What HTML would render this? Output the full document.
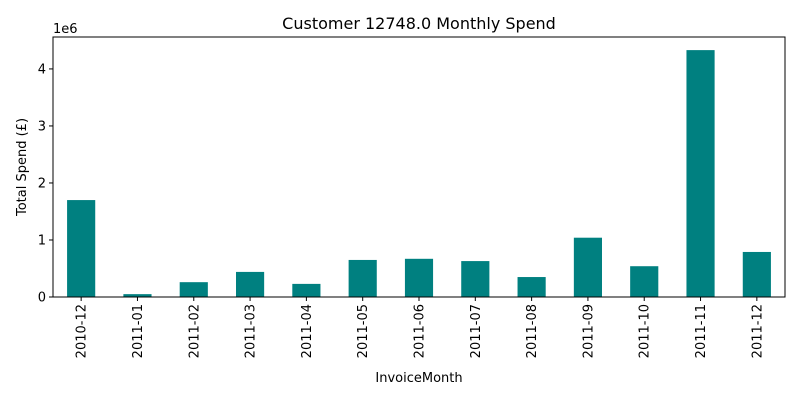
<!DOCTYPE html>
<html><head><meta charset="utf-8"><style>
body{margin:0;background:#fff;font-family:"Liberation Sans","DejaVu Sans",sans-serif}
svg text{font-family:"DejaVu Sans","Liberation Sans",sans-serif}
</style></head><body>
<svg id="chart" width="800" height="400" xmlns="http://www.w3.org/2000/svg">
<rect width="800" height="400" fill="#fff"/>
<text x="419" y="29" font-size="16" text-anchor="middle">Customer 12748.0 Monthly Spend</text>
<text transform="translate(26,167) rotate(-90)" font-size="13" text-anchor="middle">Total Spend (£)</text>
<text x="419" y="382" font-size="13" text-anchor="middle">InvoiceMonth</text>
<text x="53" y="33" font-size="13">1e6</text>
<g id="bars"></g><g id="ticks"></g>
<rect x="53" y="37" width="732" height="260" fill="none" stroke="#000" stroke-width="1"/>
</svg>
<script>
const categories=["2010-12","2011-01","2011-02","2011-03","2011-04","2011-05","2011-06","2011-07","2011-08","2011-09","2011-10","2011-11","2011-12"];
const spend=[1.70,0.05,0.26,0.44,0.23,0.65,0.67,0.63,0.35,1.04,0.54,4.33,0.79];
const yTicks=[0,1,2,3,4];
const L=53,R=785,T=37,B=297,YMAX=4.56;
const ns="http://www.w3.org/2000/svg";
const step=(R-L)/categories.length;
const x=i=>L+step*(i+0.5);
const y=v=>B-(v/YMAX)*(B-T);
const bars=document.getElementById('bars'),ticks=document.getElementById('ticks');
function mk(t,a,p){const e=document.createElementNS(ns,t);for(const k in a)e.setAttribute(k,a[k]);p.appendChild(e);return e;}
spend.forEach((v,i)=>{
 const r=mk('rect',{x:x(i)-step/4,y:y(v),width:step/2,height:B-y(v),fill:'#008080'},bars);
 
 
 mk('line',{x1:x(i),x2:x(i),y1:B,y2:B+4,stroke:'#000'},ticks);
 const t=mk('text',{transform:`translate(${x(i)+4.5},${B+7}) rotate(-90)`,'font-size':13,'text-anchor':'end'},ticks);
 t.textContent=categories[i];
 
 
});
yTicks.forEach(v=>{
 mk('line',{x1:L-4,x2:L,y1:y(v),y2:y(v),stroke:'#000'},ticks);
 const t=mk('text',{x:L-7,y:y(v)+4.5,'font-size':13,'text-anchor':'end'},ticks);
 t.textContent=v;
 
 
});
</script>
</body></html>
